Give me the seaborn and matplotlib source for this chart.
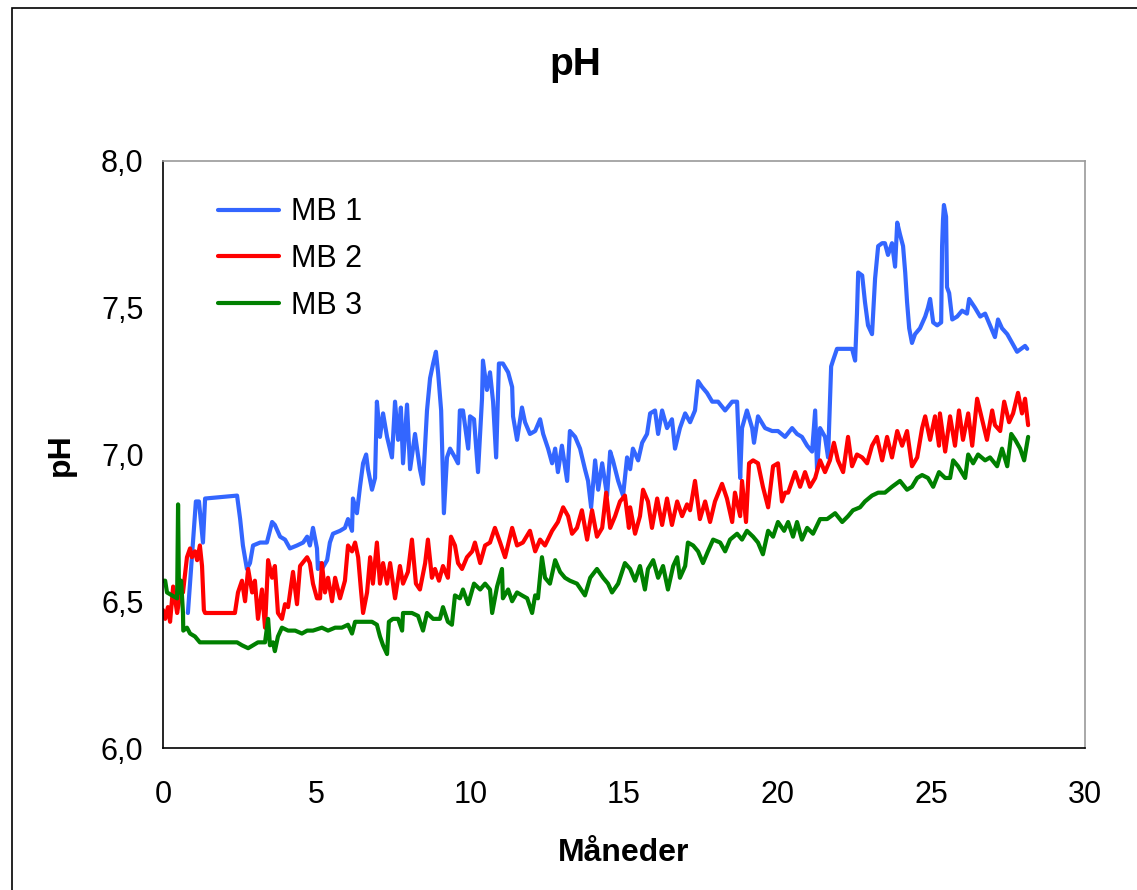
import matplotlib
matplotlib.use("Agg")
import matplotlib.pyplot as plt
from matplotlib.patches import Rectangle
import seaborn as sns
import pandas as pd

# ---- data (months, pH) ----
mb1_t = [0.81, 1.07, 1.17, 1.30, 1.37, 2.41, 2.51, 2.60, 2.73, 2.83, 2.93, 3.16, 3.38, 3.55, 3.64, 3.81,
         3.97, 4.13, 4.36, 4.56, 4.69, 4.78, 4.88, 5.01, 5.04, 5.11, 5.17, 5.34, 5.43, 5.53, 5.76, 5.92,
         6.02, 6.15, 6.18, 6.31, 6.41, 6.51, 6.61, 6.67, 6.80, 6.90, 6.96, 7.06, 7.16, 7.29, 7.45, 7.55,
         7.65, 7.74, 7.81, 7.94, 8.04, 8.20, 8.36, 8.46, 8.59, 8.69, 8.79, 8.88, 8.95, 9.05, 9.14, 9.24,
         9.34, 9.50, 9.60, 9.66, 9.76, 9.93, 9.99, 10.12, 10.25, 10.38, 10.41, 10.54, 10.64, 10.74, 10.84,
         10.93, 11.06, 11.23, 11.36, 11.39, 11.52, 11.68, 11.78, 11.94, 12.11, 12.27, 12.37, 12.53, 12.66,
         12.76, 12.85, 12.98, 13.15, 13.24, 13.41, 13.57, 13.73, 13.83, 13.93, 14.06, 14.16, 14.29, 14.45,
         14.55, 14.64, 14.81, 14.97, 15.10, 15.20, 15.29, 15.46, 15.59, 15.75, 15.85, 16.01, 16.11, 16.24,
         16.40, 16.56, 16.66, 16.82, 16.99, 17.15, 17.31, 17.41, 17.54, 17.70, 17.87, 18.06, 18.29, 18.52,
         18.68, 18.78, 18.84, 19.00, 19.17, 19.23, 19.36, 19.59, 19.82, 20.01, 20.24, 20.47, 20.63, 20.79,
         20.96, 21.12, 21.22, 21.28, 21.38, 21.54, 21.64, 21.74, 21.80, 21.93, 22.10, 22.42, 22.52, 22.58,
         22.62, 22.75, 22.84, 22.94, 23.07, 23.17, 23.27, 23.40, 23.49, 23.59, 23.72, 23.82, 23.89, 23.98,
         24.08, 24.15, 24.21, 24.28, 24.37, 24.47, 24.63, 24.80, 24.89, 24.96, 25.06, 25.19, 25.32, 25.35,
         25.38, 25.41, 25.48, 25.51, 25.58, 25.68, 25.84, 26.00, 26.16, 26.23, 26.42, 26.59, 26.75, 26.91,
         27.07, 27.17, 27.30, 27.47, 27.63, 27.79, 28.05, 28.12]
mb1_ph = [6.46, 6.84, 6.84, 6.70, 6.85, 6.86, 6.78, 6.69, 6.61, 6.63, 6.69, 6.70, 6.70, 6.77, 6.76, 6.72,
          6.71, 6.68, 6.69, 6.70, 6.72, 6.69, 6.75, 6.68, 6.61, 6.63, 6.61, 6.64, 6.70, 6.73, 6.74, 6.75,
          6.78, 6.74, 6.85, 6.80, 6.89, 6.97, 7.00, 6.95, 6.88, 6.92, 7.18, 7.06, 7.14, 7.06, 6.99, 7.18,
          7.05, 7.16, 6.97, 7.17, 6.95, 7.07, 6.95, 6.90, 7.15, 7.26, 7.31, 7.35, 7.28, 7.15, 6.80, 6.99,
          7.02, 6.99, 6.97, 7.15, 7.15, 7.02, 7.13, 7.12, 6.94, 7.19, 7.32, 7.22, 7.28, 7.18, 6.99,
          7.31, 7.31, 7.28, 7.23, 7.13, 7.05, 7.16, 7.11, 7.07, 7.08, 7.12, 7.07, 7.02, 6.97,
          7.02, 6.94, 7.03, 6.91, 7.08, 7.06, 7.02, 6.95, 6.91, 6.82, 6.98, 6.88, 6.97, 6.86,
          7.01, 6.98, 6.91, 6.86, 6.99, 6.95, 7.02, 6.98, 7.04, 7.07, 7.14, 7.15, 7.07, 7.15,
          7.09, 7.12, 7.02, 7.09, 7.14, 7.11, 7.15, 7.25, 7.23, 7.21, 7.18, 7.18, 7.15, 7.18,
          7.18, 6.92, 7.09, 7.15, 7.09, 7.04, 7.13, 7.09, 7.08, 7.08, 7.06, 7.09, 7.07, 7.06,
          7.03, 7.01, 7.15, 6.95, 7.09, 7.06, 6.99, 7.30, 7.32, 7.36, 7.36, 7.36, 7.32, 7.48,
          7.62, 7.61, 7.52, 7.44, 7.41, 7.60, 7.71, 7.72, 7.72, 7.68, 7.72, 7.64, 7.79, 7.75,
          7.71, 7.62, 7.52, 7.43, 7.38, 7.41, 7.43, 7.47, 7.50, 7.53, 7.45, 7.44, 7.45, 7.71,
          7.80, 7.85, 7.81, 7.57, 7.55, 7.46, 7.47, 7.49, 7.48, 7.53, 7.50, 7.47, 7.48, 7.44,
          7.40, 7.46, 7.43, 7.41, 7.38, 7.35, 7.37, 7.36]

mb2_t = [0.00, 0.07, 0.16, 0.23, 0.33, 0.46, 0.49, 0.62, 0.65, 0.78, 0.88, 0.94, 1.04, 1.11, 1.20, 1.27,
         1.33, 1.37, 2.34, 2.44, 2.57, 2.67, 2.77, 2.90, 2.99, 3.09, 3.22, 3.32, 3.42, 3.55, 3.64, 3.74,
         3.87, 3.97, 4.07, 4.23, 4.36, 4.46, 4.69, 4.78, 4.88, 5.01, 5.11, 5.17, 5.27, 5.37, 5.50, 5.60,
         5.76, 5.92, 6.02, 6.15, 6.25, 6.35, 6.44, 6.51, 6.64, 6.74, 6.83, 6.96, 7.06, 7.16, 7.29, 7.39,
         7.55, 7.71, 7.81, 7.97, 8.10, 8.23, 8.36, 8.53, 8.62, 8.75, 8.85, 8.98, 9.11, 9.27, 9.37, 9.50,
         9.60, 9.73, 9.89, 10.06, 10.15, 10.32, 10.48, 10.64, 10.80, 10.97, 11.13, 11.36, 11.52, 11.71,
         11.94, 12.11, 12.27, 12.43, 12.66, 12.85, 13.02, 13.18, 13.31, 13.47, 13.63, 13.80, 13.96, 14.12,
         14.29, 14.42, 14.55, 14.71, 14.87, 15.03, 15.16, 15.20, 15.36, 15.52, 15.62, 15.78, 15.91, 16.08,
         16.24, 16.40, 16.56, 16.73, 16.89, 17.05, 17.15, 17.31, 17.47, 17.64, 17.80, 17.96, 18.19, 18.35,
         18.52, 18.61, 18.78, 18.84, 18.97, 19.07, 19.20, 19.36, 19.52, 19.69, 19.85, 20.01, 20.14, 20.24,
         20.34, 20.57, 20.73, 20.89, 21.05, 21.22, 21.38, 21.54, 21.70, 21.83, 21.96, 22.13, 22.29, 22.42,
         22.58, 22.75, 22.91, 23.07, 23.23, 23.40, 23.56, 23.72, 23.89, 24.05, 24.21, 24.37, 24.54, 24.70,
         24.80, 24.96, 25.12, 25.25, 25.28, 25.45, 25.61, 25.77, 25.90, 26.03, 26.20, 26.33, 26.49, 26.65,
         26.81, 26.98, 27.07, 27.24, 27.37, 27.53, 27.66, 27.82, 27.95, 28.05, 28.15]
mb2_ph = [6.47, 6.44, 6.48, 6.43, 6.55, 6.46, 6.48, 6.56, 6.53, 6.65, 6.68, 6.65, 6.67, 6.64, 6.69, 6.62,
          6.47, 6.46, 6.46, 6.53, 6.57, 6.50, 6.61, 6.53, 6.57, 6.44, 6.54, 6.41, 6.64, 6.58, 6.62, 6.46,
          6.44, 6.49, 6.48, 6.60, 6.49, 6.62, 6.65, 6.63, 6.56, 6.51, 6.51, 6.63, 6.53, 6.58, 6.50, 6.58,
          6.51, 6.57, 6.69, 6.67, 6.70, 6.65, 6.54, 6.46, 6.53, 6.65, 6.56, 6.70, 6.56, 6.63, 6.56, 6.63,
          6.51, 6.62, 6.56, 6.60, 6.71, 6.56, 6.54, 6.63, 6.71, 6.58, 6.61, 6.57, 6.62, 6.58, 6.72, 6.69,
          6.63, 6.61, 6.65, 6.67, 6.70, 6.63, 6.69, 6.70, 6.75, 6.70, 6.65, 6.75, 6.69, 6.70,
          6.74, 6.67, 6.71, 6.69, 6.74, 6.77, 6.82, 6.79, 6.73, 6.75, 6.81, 6.71, 6.81, 6.72,
          6.75, 6.87, 6.75, 6.79, 6.84, 6.86, 6.75, 6.82, 6.73, 6.79, 6.88, 6.84, 6.75, 6.85,
          6.76, 6.85, 6.76, 6.84, 6.79, 6.83, 6.81, 6.91, 6.78, 6.84, 6.77, 6.84, 6.90, 6.85,
          6.77, 6.87, 6.79, 6.91, 6.77, 6.97, 6.98, 6.97, 6.89, 6.82, 6.96, 6.97, 6.84, 6.87,
          6.87, 6.94, 6.89, 6.94, 6.89, 6.92, 6.98, 6.94, 6.98, 7.04, 6.98, 6.94, 7.06, 6.96,
          7.00, 6.99, 6.97, 7.03, 7.06, 6.98, 7.06, 6.99, 7.08, 7.03, 7.08, 6.96, 6.99, 7.09,
          7.13, 7.05, 7.13, 7.03, 7.14, 7.01, 7.13, 7.03, 7.15, 7.05, 7.14, 7.03, 7.19, 7.12,
          7.05, 7.15, 7.10, 7.08, 7.18, 7.11, 7.14, 7.21, 7.14, 7.19, 7.10]

mb3_t = [0.00, 0.07, 0.13, 0.29, 0.46, 0.49, 0.52, 0.59, 0.65, 0.66, 0.78, 0.88, 1.04, 1.20, 1.37, 2.41,
         2.57, 2.77, 2.93, 3.09, 3.32, 3.42, 3.48, 3.58, 3.64, 3.74, 3.87, 4.07, 4.30, 4.52, 4.69, 4.88,
         5.17, 5.37, 5.60, 5.82, 6.02, 6.15, 6.25, 6.41, 6.57, 6.80, 6.96, 7.06, 7.16, 7.29, 7.35, 7.48,
         7.65, 7.78, 7.81, 8.10, 8.30, 8.46, 8.59, 8.79, 9.01, 9.11, 9.27, 9.40, 9.50, 9.66, 9.76, 9.93,
         10.12, 10.32, 10.48, 10.64, 10.71, 10.87, 11.03, 11.06, 11.23, 11.36, 11.52, 11.68, 11.85, 12.01,
         12.11, 12.20, 12.33, 12.43, 12.59, 12.76, 12.92, 13.08, 13.24, 13.47, 13.73, 13.90, 14.12, 14.32,
         14.48, 14.61, 14.81, 15.03, 15.20, 15.36, 15.52, 15.68, 15.78, 15.95, 16.11, 16.27, 16.43, 16.60,
         16.73, 16.82, 16.99, 17.08, 17.25, 17.41, 17.57, 17.73, 17.90, 18.13, 18.29, 18.45, 18.68, 18.84,
         19.00, 19.20, 19.36, 19.52, 19.69, 19.85, 20.01, 20.21, 20.34, 20.50, 20.63, 20.79, 20.96, 21.15,
         21.38, 21.61, 21.87, 22.10, 22.29, 22.45, 22.68, 22.84, 23.07, 23.27, 23.49, 23.72, 23.98, 24.21,
         24.37, 24.54, 24.70, 24.89, 25.06, 25.25, 25.45, 25.61, 25.71, 25.87, 26.10, 26.20, 26.36, 26.52,
         26.75, 26.91, 27.14, 27.30, 27.47, 27.60, 27.73, 27.89, 28.02, 28.15]
mb3_ph = [6.57, 6.57, 6.53, 6.52, 6.51, 6.83, 6.53, 6.57, 6.46, 6.40, 6.41, 6.39, 6.38, 6.36, 6.36, 6.36,
          6.35, 6.34, 6.35, 6.36, 6.36, 6.44, 6.35, 6.36, 6.33, 6.38, 6.41, 6.40, 6.40, 6.39, 6.40, 6.40,
          6.41, 6.40, 6.41, 6.41, 6.42, 6.39, 6.43, 6.43, 6.43, 6.43, 6.42, 6.38, 6.35, 6.32, 6.43, 6.44,
          6.44, 6.40, 6.46, 6.46, 6.45, 6.40, 6.46, 6.44, 6.44, 6.48, 6.43, 6.42, 6.52, 6.51, 6.54, 6.49,
          6.56, 6.54, 6.56, 6.54, 6.46, 6.55, 6.61, 6.51, 6.54, 6.50, 6.53, 6.52, 6.51, 6.46,
          6.52, 6.51, 6.65, 6.58, 6.56, 6.64, 6.60, 6.58, 6.57, 6.56, 6.52, 6.58, 6.61, 6.58,
          6.56, 6.53, 6.56, 6.63, 6.61, 6.57, 6.62, 6.54, 6.61, 6.64, 6.58, 6.62, 6.54, 6.62,
          6.65, 6.58, 6.62, 6.70, 6.69, 6.67, 6.63, 6.67, 6.71, 6.70, 6.67, 6.71, 6.73, 6.71,
          6.74, 6.72, 6.70, 6.66, 6.74, 6.72, 6.77, 6.74, 6.77, 6.72, 6.77, 6.71, 6.75, 6.73,
          6.78, 6.78, 6.80, 6.77, 6.79, 6.81, 6.82, 6.84, 6.86, 6.87, 6.87, 6.89, 6.91, 6.88,
          6.89, 6.92, 6.93, 6.92, 6.89, 6.94, 6.92, 6.92, 6.98, 6.96, 6.92, 7.00, 6.97, 7.00,
          6.98, 6.99, 6.96, 7.02, 6.96, 7.07, 7.05, 7.02, 6.98, 7.06]

series_names = ["MB 1", "MB 2", "MB 3"]
colors = ["#3366FF", "#FF0000", "#008000"]
x_ticks = [0, 5, 10, 15, 20, 25, 30]
y_ticks = [6.0, 6.5, 7.0, 7.5, 8.0]
y_ticklabels = ["6,0", "6,5", "7,0", "7,5", "8,0"]

# ---- long-form table ----
frames = []
for name, t, v in zip(series_names, [mb1_t, mb2_t, mb3_t], [mb1_ph, mb2_ph, mb3_ph]):
    frames.append(pd.DataFrame({"Måneder": t, "pH": v, "serie": name}))
df = pd.concat(frames, ignore_index=True)

sns.set_style("white")
plt.rcParams["font.family"] = ["Liberation Sans", "DejaVu Sans"]
plt.rcParams.update({"text.color": "black", "axes.labelcolor": "black",
                     "xtick.color": "black", "ytick.color": "black"})

fig = plt.figure(figsize=(11.37, 8.90), dpi=100)
ax = fig.add_axes([163 / 1137, 1 - 748 / 890, (1085 - 163) / 1137, (748 - 161) / 890])

sns.lineplot(data=df, x="Måneder", y="pH", hue="serie", palette=dict(zip(series_names, colors)),
             estimator=None, sort=False, units="serie", linewidth=3.0, ax=ax, legend=False)

ax.set_xlim(0, 30)
ax.set_ylim(6.0, 8.0)
ax.set_xticks(x_ticks)
ax.set_xticklabels([str(v) for v in x_ticks])
ax.set_yticks(y_ticks)
ax.set_yticklabels(y_ticklabels)
ax.set_yticks([6.25, 6.75, 7.25, 7.75], minor=True)
ax.tick_params(axis="both", which="both", direction="out", length=8, width=1.0, color="black",
               labelsize=22, labelcolor="black")
ax.tick_params(axis="x", which="both", pad=15)
ax.tick_params(axis="y", which="both", pad=6)
for s in ["left", "bottom"]:
    ax.spines[s].set_color("black")
    ax.spines[s].set_linewidth(1.2)
for s in ["top", "right"]:
    ax.spines[s].set_color("#9a9a9a")
    ax.spines[s].set_linewidth(1.2)

ax.set_xlabel("Måneder", fontsize=23, fontweight="bold", labelpad=20)
ax.set_ylabel("pH", fontsize=23, fontweight="bold", labelpad=18)

handles = [plt.Line2D([], [], color=c, linewidth=3.0) for c in colors]
ax.legend(handles, series_names, loc="upper left", bbox_to_anchor=(0.03, 0.985), frameon=False,
          fontsize=22, handlelength=2.0, handletextpad=0.4, labelspacing=0.55)

fig.text(0.506, 1 - 65 / 890, "pH", ha="center", va="center", fontsize=28, fontweight="bold")

fig.patches.append(Rectangle((12 / 1137, -0.2), 1.5, 1 - 8 / 890 + 0.2, transform=fig.transFigure,
                             fill=False, edgecolor="black", linewidth=1.2))

fig.savefig("out.png", dpi=100)
